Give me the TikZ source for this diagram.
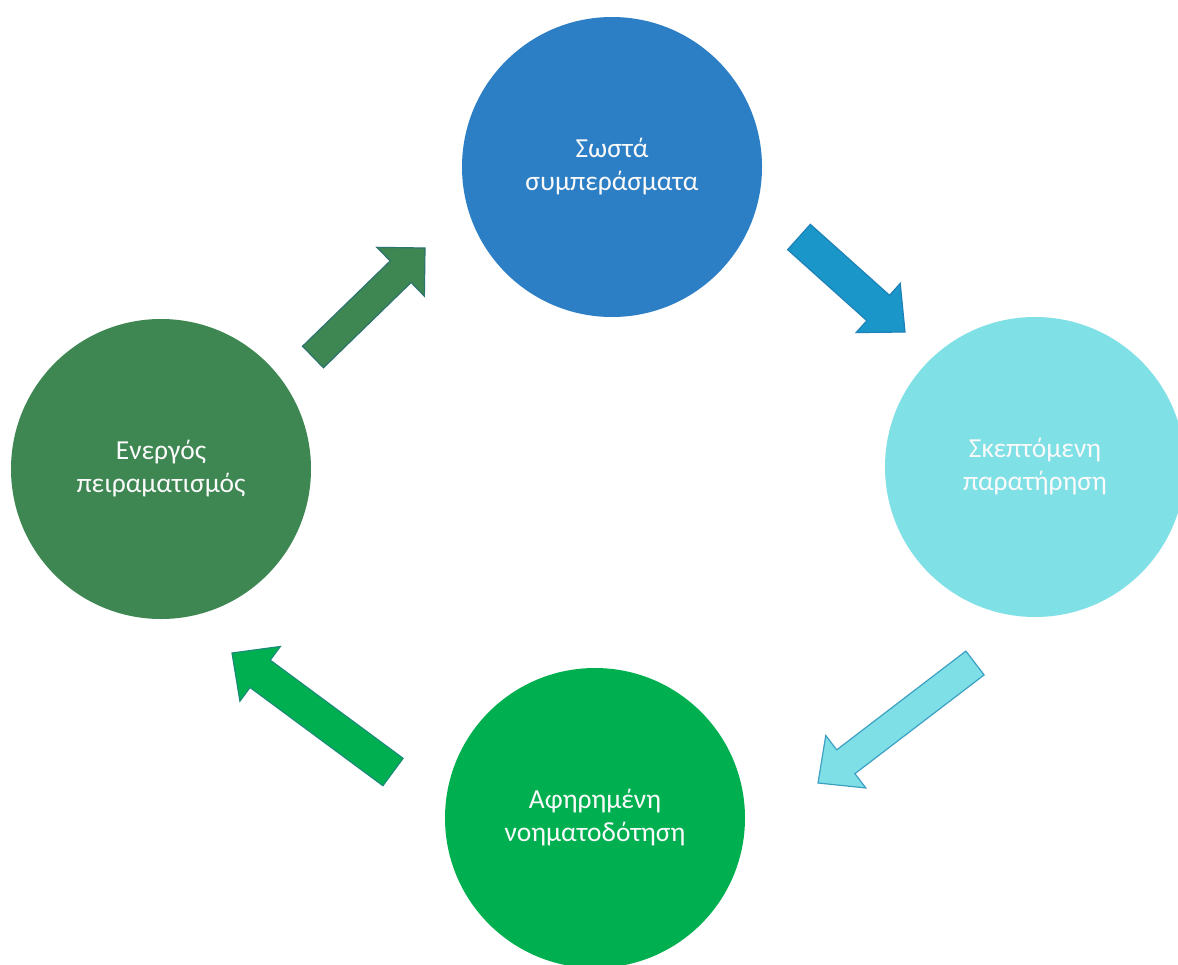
\documentclass[tikz,border=0pt]{standalone}
\usepackage{fontspec}
\setmainfont{Carlito}
\usetikzlibrary{calc}
\definecolor{cTop}{RGB}{44,127,197}
\definecolor{cRight}{RGB}{127,224,230}
\definecolor{cLeft}{RGB}{62,135,82}
\definecolor{cBottom}{RGB}{0,176,80}
\definecolor{aOne}{RGB}{62,135,82}
\definecolor{aOneL}{RGB}{45,115,110}
\definecolor{aTwo}{RGB}{26,150,200}
\definecolor{aTwoL}{RGB}{30,130,185}
\definecolor{aThree}{RGB}{127,223,230}
\definecolor{aThreeL}{RGB}{60,160,195}
\definecolor{aFour}{RGB}{0,176,80}
\definecolor{aFourL}{RGB}{25,140,120}
\newcommand{\blockarr}[6]{%
  \coordinate (hh) at ($(#2)!#5!(#1)$);
  \path[#6] ($(#1)!#3!90:(#2)$) -- ($(hh)!#3!90:(#2)$) -- ($(hh)!#4!90:(#2)$) -- (#2)
    -- ($(hh)!#4!-90:(#2)$) -- ($(hh)!#3!-90:(#2)$) -- ($(#1)!#3!-90:(#2)$) -- cycle;}
\tikzset{
  stage/.style={circle, minimum size=300pt, inner sep=0pt, align=center, text=white!96!gray,
    font=\fontsize{27.5}{33}\selectfont},
  barrow/.style={line width=1.2pt, line join=miter}
}
\begin{document}
\begin{tikzpicture}[x=1pt,y=-1pt]
\useasboundingbox (0,0) rectangle (1178,964);
\clip (0,0) rectangle (1178,964);
\fill[white] (0,0) rectangle (1178,964);
\node[stage, fill=cTop] (T) at (612,167) {Σωστά\\συμπεράσματα};
\node[stage, fill=cRight] (R) at (1035,467) {Σκεπτόμενη\\παρατήρηση};
\node[stage, fill=cBottom] (B) at (595,818) {Αφηρημένη\\νοηματοδότηση};
\node[stage, fill=cLeft] (L) at (161,469) {Ενεργός\\πειραματισμός};
\coordinate (a1s) at (313,357);
\coordinate (a1e) at (425,248);
\coordinate (a2s) at (799,237);
\coordinate (a2e) at (905,332);
\coordinate (a3s) at (975,663);
\coordinate (a3e) at (818,783);
\coordinate (a4s) at (393,772);
\coordinate (a4e) at (232,653);
\blockarr{a1s}{a1e}{15pt}{34pt}{34pt}{barrow, fill=aOne, draw=aOneL}
\blockarr{a2s}{a2e}{17pt}{33pt}{36pt}{barrow, fill=aTwo, draw=aTwoL}
\blockarr{a3s}{a3e}{15pt}{33pt}{35pt}{barrow, fill=aThree, draw=aThreeL}
\blockarr{a4s}{a4e}{17pt}{34pt}{35pt}{barrow, fill=aFour, draw=aFourL}
\end{tikzpicture}
\end{document}
